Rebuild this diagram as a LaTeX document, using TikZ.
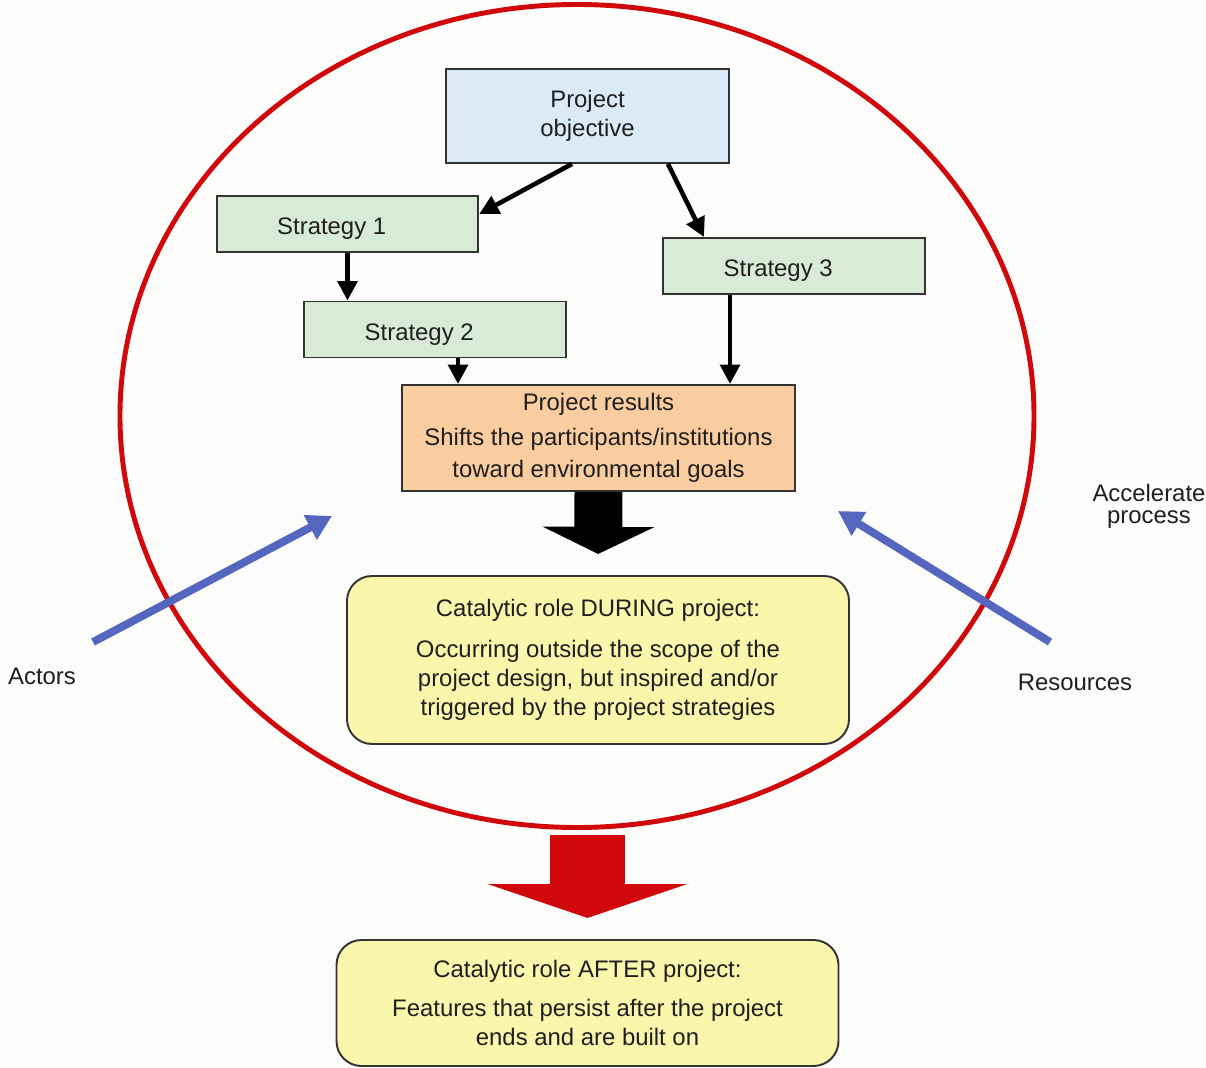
\documentclass[tikz,border=0pt]{standalone}
\usepackage{fontspec}
\setmainfont{Liberation Sans}
\usetikzlibrary{positioning,arrows.meta,shapes.geometric}
\definecolor{paper}{RGB}{252,252,250}
\definecolor{objblue}{RGB}{218,234,247}
\definecolor{stratgreen}{RGB}{216,235,214}
\definecolor{resorange}{RGB}{250,205,160}
\definecolor{roleyellow}{RGB}{250,246,172}
\definecolor{ringred}{RGB}{208,8,12}
\definecolor{pushblue}{RGB}{84,102,190}

\begin{document}
\begin{tikzpicture}[x=0.2mm, y=-0.2mm,
  txt/.style={font=\fontsize{13.6}{16.5}\selectfont, align=center, text=black!88},
  box/.style={txt, draw=black!80, line width=1.1pt, inner sep=2pt},
  objbox/.style={box, fill=objblue, minimum width=56.6mm, minimum height=18.8mm},
  stratbox/.style={box, fill=stratgreen, minimum width=52.3mm, minimum height=11.2mm,
                   text height=15pt, text depth=3pt, execute at end node={\kern18pt}},
  resbox/.style={box, fill=resorange, minimum width=78.6mm, minimum height=21.2mm,
                 font=\fontsize{13.6}{18.2}\selectfont},
  rolebox/.style={box, fill=roleyellow, rounded corners=5mm, minimum width=100.4mm},
  note/.style={font=\fontsize{13.6}{12.5}\selectfont, align=center, text=black!88},
  flow/.style={draw=black, line width=2.6pt, -{Triangle[length=11pt,width=11pt]}},
  push/.style={draw=pushblue, line width=4.5pt, -{Triangle[length=14pt,width=15pt]}},
  during/.style={draw=black, line width=27.3pt, -{Triangle[length=15.4pt,width=63pt]}, shorten >=12pt},
  after/.style={draw=ringred, line width=42.7pt, -{Triangle[length=19.3pt,width=113pt]}, shorten >=12pt}
]

\fill[paper] (0,0) rectangle (1206,1068);
\useasboundingbox (0,0) rectangle (1206,1068);

\node[ellipse, draw=ringred, line width=2.8pt, inner sep=0pt,
      minimum width=182.8mm, minimum height=164.6mm] (ring) at (577,416) {};

\node[objbox] (obj) at (587.5,116) {Project\\objective};
\node[stratbox] (s1) at (347.5,224) {Strategy 1};
\node[stratbox] (s2) at (435,329.5) {Strategy 2};
\node[stratbox] (s3) at (794,266) {Strategy 3};
\node[resbox] (res) at (598.5,438) {Project results\\[1.7pt]Shifts the participants/institutions\\toward environmental goals};
\node[rolebox, minimum height=33.6mm] (dur) at (598,660) {Catalytic role DURING project:\\[7pt]Occurring outside the scope of the\\project design, but inspired and/or\\triggered by the project strategies};
\node[rolebox, minimum height=25.2mm] (aft) at (587.5,1003) {Catalytic role AFTER project:\\[5.5pt]Features that persist after the project\\ends and are built on};

\node[note] (actors) at (42,676) {Actors};
\node[note] (resources) at (1075,682) {Resources};
\node[note] (accel) at (1149,506) {Accelerate\\process};

\coordinate (actfrom) at (93,642);
\coordinate (actto) at (332,516);
\coordinate (resfrom) at (1050,642);
\coordinate (resto) at (838,511);

\draw[flow] ([xshift=-3.1mm]obj.south) -- ([yshift=2mm]s1.east);
\draw[flow] ([xshift=16.1mm]obj.south) -- ([xshift=-18mm]s3.north);
\draw[flow] (s1.south) -- (s1.south |- s2.north);
\draw[flow] ([xshift=4.6mm]s2.south) -- ([xshift=4.6mm]s2.south |- res.north);
\draw[flow] ([xshift=-12.8mm]s3.south) -- ([xshift=-12.8mm]s3.south |- res.north);

\draw[during] (res.south) -- (dur.north);
\draw[after] ([yshift=-1mm]ring.south -| aft.north) -- (aft.north);

\draw[push] (actfrom) -- (actto);
\draw[push] (resfrom) -- (resto);

\end{tikzpicture}
\end{document}
